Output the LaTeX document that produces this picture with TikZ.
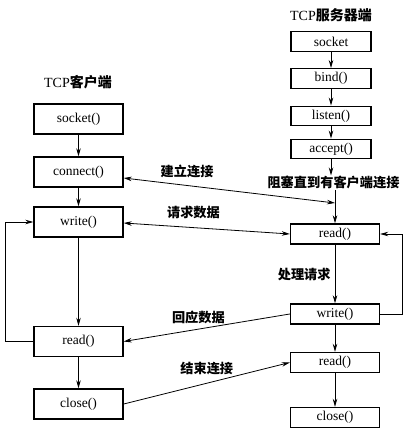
\documentclass[tikz,border=0pt]{standalone}
\usepackage{fontspec}
\setmainfont{Liberation Serif}
\newfontfamily\cjk{Noto Sans CJK SC}
\usetikzlibrary{arrows.meta}
\begin{document}
\begin{tikzpicture}[x=1pt,y=-1pt,
  box/.style={draw,line width=1.4pt,inner sep=0pt,font=\fontsize{13.5}{15}\selectfont},
  cbox/.style={box,minimum width=89pt,minimum height=30pt},
  sbox/.style={box,minimum width=80pt,minimum height=19.5pt},
  lbox/.style={box,minimum width=89pt,minimum height=20pt},
  lbl/.style={font=\cjk\bfseries\fontsize{13.2}{15}\selectfont,inner sep=0pt},
  ttl/.style={font=\fontsize{14}{16}\selectfont,inner sep=0pt},
  conn/.style={line width=0.8pt,-{Stealth[length=8pt,width=4.5pt]}},
  dconn/.style={line width=0.8pt,{Stealth[length=8pt,width=4.5pt]}-{Stealth[length=8pt,width=4.5pt]}}]
\useasboundingbox[fill=white] (0,0) rectangle (406,435);
% titles
\node[ttl] (ct) at (78,82) {TCP{\cjk\bfseries 客户端}};
\node[ttl] (st) at (331,15) {TCP{\cjk\bfseries 服务器端}};
% client
\node[cbox] (c1) at (78.5,119) {socket()};
\node[cbox] (c2) at (78.5,172) {connect()};
\node[cbox] (c3) at (78.5,222) {write()};
\node[cbox] (c4) at (78.5,341.5) {read()};
\node[cbox] (c5) at (78.5,404) {close()};
% server
\node[sbox] (s1) at (331,41.5) {socket};
\node[sbox] (s2) at (331,78.5) {bind()};
\node[sbox] (s3) at (331,116) {listen()};
\node[sbox] (s4) at (331,149) {accept()};
\node[lbl] (blk) at (333.5,182.5) {阻塞直到有客户端连接};
\node[lbox] (s5) at (335,234) {read()};
\node[lbox] (s6) at (335,314) {write()};
\node[lbox] (s7) at (335,362.5) {read()};
\node[lbox] (s8) at (335,417.5) {close()};
% client flow
\draw[conn] (c1) -- (c2);
\draw[conn] (c2) -- (c3);
\draw[conn] (c3) -- (c4);
\draw[conn] (c4) -- (c5);
\coordinate (cl) at (5,341.5);
\draw[conn] (c4.west) -- (cl) |- (c3.west);
% server flow
\draw[conn] (s1) -- (s2);
\draw[conn] (s2) -- (s3);
\draw[conn] (s3) -- (s4);
\draw[conn] (s4.south) -- ++(0,16);
\coordinate (cp) at (335,203);
\draw[conn] (335,190) -- (s5.north);
\draw[conn] (s5) -- node[lbl,left=4pt] (lp) {处理请求} (s6);
\draw[conn] (s6) -- (s7);
\draw[conn] (s7) -- (s8);
\coordinate (sr) at (402,314);
\draw[conn] (s6.east) -- (sr) |- (s5.east);
% messages
\draw[dconn] (c2.east |- 0,178) -- node[lbl,above=7pt,pos=0.3] (m1) {建立连接} (cp);
\draw[dconn] (c3.east |- 0,223) -- node[lbl,above=8pt,pos=0.42] (m2) {请求数据} (s5.west);
\draw[conn] (s6.west) -- node[lbl,above=5pt,pos=0.55] (m3) {回应数据} (c4.east);
\draw[conn] (c5.east) -- node[lbl,above=8pt,pos=0.5] (m4) {结束连接} (s7.west);
\end{tikzpicture}
\end{document}
